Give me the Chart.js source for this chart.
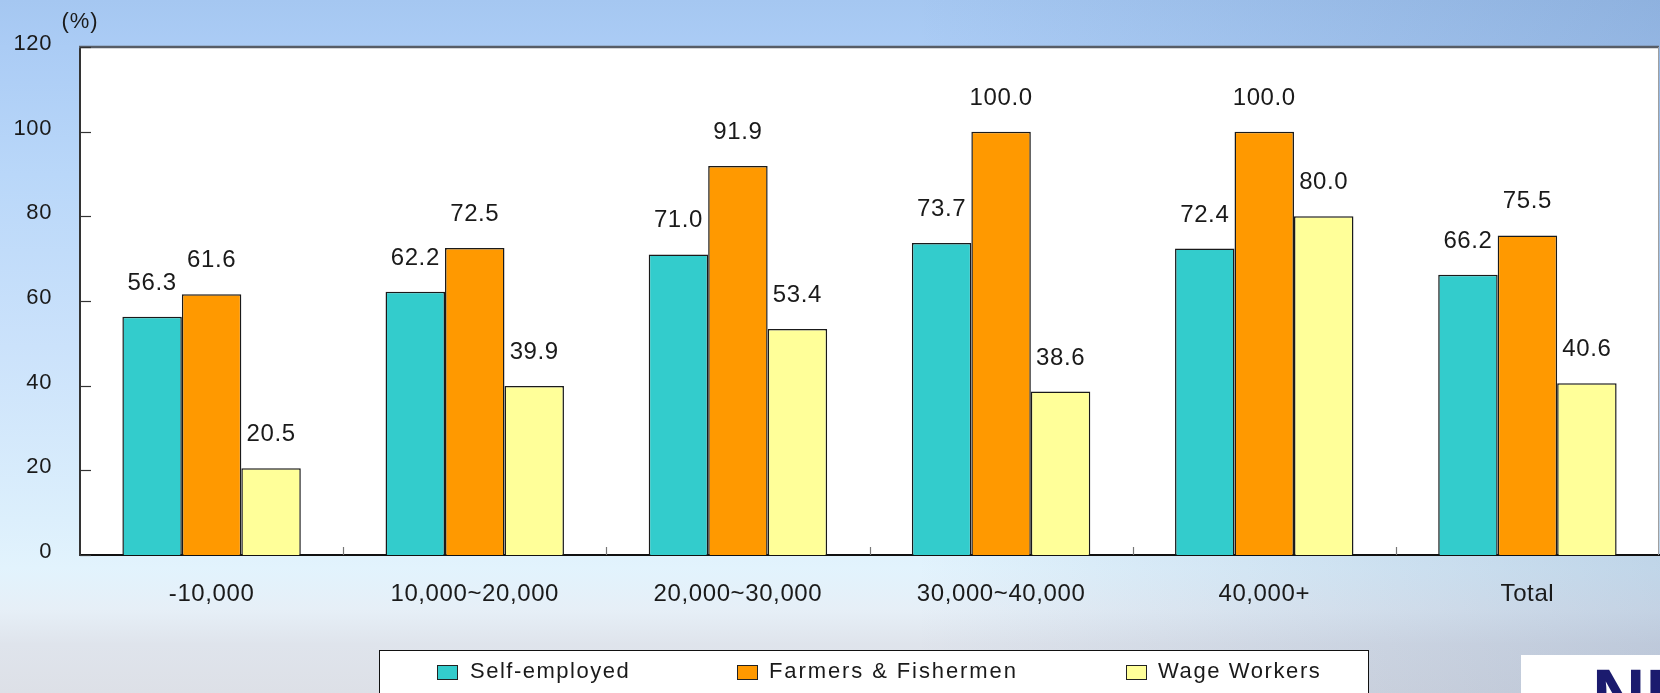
<!DOCTYPE html>
<html>
<head>
<meta charset="utf-8">
<script src="https://cdn.jsdelivr.net/npm/chart.js@4.4.1/dist/chart.umd.min.js"></script>
<style>
  html, body { margin: 0; padding: 0; overflow: hidden; background: #dde0e7; }
  #wrap { width: 1660px; height: 693px; position: relative; }
</style>
</head>
<body>
<div id="wrap"><canvas id="c" width="1660" height="693"></canvas></div>
<script>
const categories = ['-10,000', '10,000~20,000', '20,000~30,000', '30,000~40,000', '40,000+', 'Total'];
const seriesNames = ['Self-employed', 'Farmers & Fishermen', 'Wage Workers'];
const selfEmployed = [56.3, 62.2, 71.0, 73.7, 72.4, 66.2];
const farmersFishermen = [61.6, 72.5, 91.9, 100.0, 100.0, 75.5];
const wageWorkers = [20.5, 39.9, 53.4, 38.6, 80.0, 40.6];
const yTicks = [0, 20, 40, 60, 80, 100, 120];
const yUnit = '(%)';
const logoText = 'NI';

const colors = ['#33CCCC', '#FF9900', '#FFFF99'];
const FONT = 'Liberation Sans, Arial, sans-serif';
const TEXT = '#1a1a1a';

const bgPlugin = {
  id: 'bgPlugin',
  beforeDraw(chart) {
    const ctx = chart.ctx, W = chart.width, H = chart.height, a = chart.chartArea;
    ctx.save();
    const g = ctx.createLinearGradient(0, 0, 0, H);
    g.addColorStop(0, '#A5C7F1');
    g.addColorStop(0.068, '#ABCCF5');
    g.addColorStop(0.25, '#B9D7F9');
    g.addColorStop(0.5, '#CBE2FB');
    g.addColorStop(0.75, '#DCEFFC');
    g.addColorStop(0.82, '#E2F3FD');
    g.addColorStop(0.88, '#E6EFF7');
    g.addColorStop(0.93, '#DFE4EC');
    g.addColorStop(1, '#DDE0E7');
    ctx.fillStyle = g;
    ctx.fillRect(0, 0, W, H);
    const h = ctx.createLinearGradient(0, 0, W, 0);
    h.addColorStop(0, 'rgba(40,80,140,0)');
    h.addColorStop(0.55, 'rgba(40,80,140,0)');
    h.addColorStop(1, 'rgba(40,80,140,0.18)');
    ctx.fillStyle = h;
    ctx.fillRect(0, 0, W, H);
    ctx.fillStyle = '#ffffff';
    ctx.fillRect(a.left, a.top, a.right - a.left, a.bottom - a.top);
    ctx.restore();
    ctx.letterSpacing = '0.6px';
  },
  afterDatasetsDraw(chart) {
    const ctx = chart.ctx;
    ctx.save();
    ctx.font = '24px ' + FONT;
    ctx.letterSpacing = '0.6px';
    ctx.fillStyle = TEXT;
    ctx.textAlign = 'center';
    ctx.textBaseline = 'alphabetic';
    chart.data.datasets.forEach((ds, di) => {
      const meta = chart.getDatasetMeta(di);
      meta.data.forEach((bar, i) => {
        ctx.fillText(ds.data[i].toFixed(1), bar.x, bar.y - 27);
      });
    });
    ctx.restore();
  },
  afterDraw(chart) {
    const ctx = chart.ctx, a = chart.chartArea, W = chart.width, H = chart.height;
    const ys = chart.scales.y, xs = chart.scales.x;
    ctx.save();
    // top border of plot
    ctx.strokeStyle = '#575d66';
    ctx.lineWidth = 2.5;
    ctx.beginPath(); ctx.moveTo(a.left - 1, a.top); ctx.lineTo(a.right, a.top); ctx.stroke();
    // right edge
    ctx.strokeStyle = '#a0a0a0';
    ctx.lineWidth = 1;
    ctx.beginPath(); ctx.moveTo(a.right - 0.5, a.top); ctx.lineTo(a.right - 0.5, a.bottom); ctx.stroke();
    // inward y ticks
    ctx.strokeStyle = '#333';
    ctx.lineWidth = 1.2;
    yTicks.forEach(v => {
      const y = Math.round(ys.getPixelForValue(v)) + 0.5;
      ctx.beginPath(); ctx.moveTo(a.left, y); ctx.lineTo(a.left + 11, y); ctx.stroke();
    });
    // inward x ticks between categories
    ctx.strokeStyle = '#777';
    for (let i = 0; i < categories.length - 1; i++) {
      const x = Math.round((xs.getPixelForValue(i) + xs.getPixelForValue(i + 1)) / 2) + 0.5;
      ctx.beginPath(); ctx.moveTo(x, a.bottom - 8); ctx.lineTo(x, a.bottom); ctx.stroke();
    }
    // unit label
    ctx.font = '22px ' + FONT;
    ctx.letterSpacing = '1px';
    ctx.fillStyle = TEXT;
    ctx.textAlign = 'center';
    ctx.textBaseline = 'middle';
    ctx.fillText(yUnit, a.left, 22);

    // legend box
    const lx = 379.5, ly = 650.5, lr = 1368.5;
    ctx.fillStyle = '#ffffff';
    ctx.fillRect(lx, ly, lr - lx, H - ly + 2);
    ctx.strokeStyle = '#111';
    ctx.lineWidth = 1;
    ctx.strokeRect(lx, ly, lr - lx, H - ly + 5);
    const swX = [437.5, 737.5, 1126.5];
    const txX = [470, 769, 1158];
    const ls = ['1.5px', '1.9px', '1.6px'];
    ctx.font = '22px ' + FONT;
    ctx.textAlign = 'left';
    ctx.textBaseline = 'alphabetic';
    chart.data.datasets.forEach((ds, i) => {
      ctx.fillStyle = ds.backgroundColor;
      ctx.fillRect(swX[i], 665.5, 20, 14);
      ctx.strokeStyle = '#222';
      ctx.strokeRect(swX[i], 665.5, 20, 14);
      ctx.fillStyle = TEXT;
      ctx.letterSpacing = ls[i];
      ctx.fillText(ds.label, txX[i], 677.5);
    });

    // logo block
    ctx.fillStyle = '#ffffff';
    ctx.fillRect(1521, 655, W - 1521, H - 655);
    ctx.fillStyle = '#1b1b6e';
    ctx.font = 'bold 74px ' + FONT;
    ctx.letterSpacing = '0px';
    ctx.textAlign = 'left';
    ctx.fillText(logoText, 1592, 721);
    ctx.restore();
  }
};

Chart.defaults.font.family = FONT;
Chart.defaults.color = TEXT;

new Chart(document.getElementById('c'), {
  type: 'bar',
  data: {
    labels: categories,
    datasets: [
      { label: seriesNames[0], data: selfEmployed, backgroundColor: colors[0] },
      { label: seriesNames[1], data: farmersFishermen, backgroundColor: colors[1] },
      { label: seriesNames[2], data: wageWorkers, backgroundColor: colors[2] }
    ]
  },
  options: {
    responsive: false,
    animation: false,
    devicePixelRatio: 1,
    layout: { padding: { top: 47, right: 1, left: 0, bottom: 0 } },
    datasets: {
      bar: {
        categoryPercentage: 0.678,
        barPercentage: 1.0,
        borderColor: '#1a1a1a',
        borderWidth: 1.5,
        borderSkipped: 'start'
      }
    },
    plugins: {
      legend: { display: false },
      tooltip: { enabled: false },
      title: { display: false }
    },
    scales: {
      x: {
        offset: true,
        grid: { display: false, drawTicks: false },
        border: { display: true, color: '#111', width: 2 },
        ticks: { font: { size: 24 }, color: TEXT, padding: 25, maxRotation: 0, autoSkip: false },
        afterFit(s) { s.height = 138; }
      },
      y: {
        min: 0,
        max: 120,
        afterBuildTicks(s) { s.ticks = yTicks.map(v => ({ value: v })); },
        grid: { display: false, drawTicks: false },
        border: { display: true, color: '#333', width: 2 },
        ticks: { font: { size: 22 }, color: TEXT, padding: 28, labelOffset: -3 },
        afterFit(s) { s.width = 80; }
      }
    }
  },
  plugins: [bgPlugin]
});
</script>
</body>
</html>
